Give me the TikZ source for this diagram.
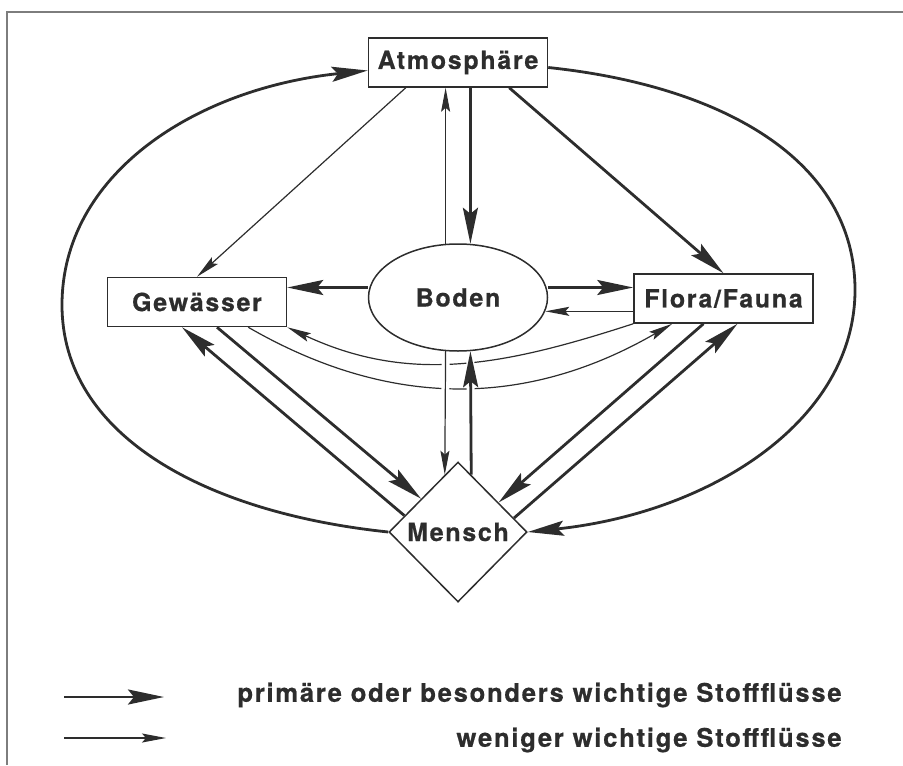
\documentclass[tikz,border=0pt]{standalone}
\usepackage{fontspec}
\setmainfont{TeX Gyre Heros}
\newfontfamily\labelfont{TeX Gyre Heros}[LetterSpace=6.8, BoldFeatures={FakeBold=0.6}]
\usetikzlibrary{arrows.meta,shapes.geometric}
\definecolor{ink}{RGB}{45,45,45}
\definecolor{rulegray}{RGB}{125,125,125}
\tikzset{
  sphere/.style={draw=ink, line width=0.75pt, inner sep=0pt, text=ink,
    font=\labelfont\bfseries\fontsize{12.5}{15}\selectfont},
  box/.style={sphere, rectangle, minimum width=89.5pt, minimum height=24.5pt},
  soil/.style={sphere, ellipse, minimum width=89.5pt, minimum height=53.5pt},
  human/.style={sphere, diamond, minimum width=69pt, minimum height=70pt},
  mainflow/.style={draw=ink, line width=1.4pt,
    -{Stealth[length=18pt,width=7.5pt,inset=3pt]}},
  sideflow/.style={draw=ink, line width=0.6pt,
    -{Stealth[length=12pt,width=4.5pt,inset=2pt]}},
  bridge/.style={preaction={draw=white, line width=4pt, -,
    shorten <=3pt, shorten >=3pt}},
  keytext/.style={anchor=east, inner sep=0pt, text=ink,
    font=\labelfont\bfseries\fontsize{12.8}{15}\selectfont}
}
\begin{document}
\begin{tikzpicture}[x=0.5pt, y=0.5pt]
  \useasboundingbox (0,0) rectangle (903,-765);
  \draw[rulegray, line width=0.75pt] (7,-765) -- (7,-12) -- (903,-12);

  \node[box] (Atmos) at (458,-62.5) {Atmosphäre};
  \node[box] (Gewaesser) at (197,-302) {Gewässer};
  \node[soil] (Boden) at (458,-297.5) {Boden};
  \node[box] (Flora) at (723.5,-298.5) {Flora/Fauna};
  \node[human] (Mensch) at (458,-532) {Mensch};
  \coordinate (loopW) at (62,-305);
  \coordinate (loopE) at (855,-290);

  % outer loop
  \draw[mainflow] (Mensch.west) .. controls +(174:185) and +(270:130) .. (loopW)
    .. controls +(90:130) and +(186:175) .. ([yshift=-4pt]Atmos.west);
  \draw[mainflow] ([yshift=-2.5pt]Atmos.east) .. controls +(-6:175) and +(90:130) .. (loopE)
    .. controls +(-90:130) and +(6:185) .. (Mensch.east);

  % from the atmosphere
  \draw[sideflow] ([xshift=19pt]Atmos.south west) -- (Gewaesser.north);
  \draw[mainflow] ([xshift=-19.5pt]Atmos.south east) -- (Flora.north);
  \draw[sideflow] (Boden.103) -- (Boden.103 |- Atmos.south);
  \draw[mainflow] (Atmos.south -| Boden.77) -- (Boden.77);

  % soil, water, flora
  \draw[mainflow] ([yshift=5pt]Boden.west) -- ([yshift=5pt]Boden.west -| Gewaesser.east);
  \draw[mainflow] ([yshift=5pt]Boden.east) -- ([yshift=5pt]Boden.east -| Flora.west);
  \draw[sideflow] (Boden.-9 -| Flora.west) -- (Boden.-9);
  \draw[sideflow] (Flora.south west) to[out=198, in=-25] (Gewaesser.south east);
  \draw[sideflow] ([xshift=-19.5pt]Gewaesser.south east) to[out=-30, in=210]
    ([xshift=19.5pt]Flora.south west);

  % man
  \draw[sideflow, bridge] (Boden.-103) -- (Mensch.103);
  \draw[mainflow, bridge] (Mensch.77) -- (Boden.-77);
  \draw[mainflow] (Mensch.163) -- ([xshift=-7.5pt]Gewaesser.south);
  \draw[mainflow] ([xshift=10pt]Gewaesser.south) -- (Mensch.138);
  \draw[mainflow] ([xshift=-10pt]Flora.south) -- (Mensch.36);
  \draw[mainflow] (Mensch.14) -- ([xshift=7pt]Flora.south);

  % legend
  \coordinate (keyA) at (64,-697);
  \coordinate (keyAend) at (164,-697);
  \coordinate (keyB) at (64,-738);
  \coordinate (keyBend) at (166,-738);
  \draw[mainflow] (keyA) -- (keyAend);
  \draw[sideflow] (keyB) -- (keyBend);
  \node[keytext] (keyMain) at (842,-695) {primäre oder besonders wichtige Stoffflüsse};
  \node[keytext] (keySide) at (842,-740) {weniger wichtige Stoffflüsse};
\end{tikzpicture}
\end{document}
